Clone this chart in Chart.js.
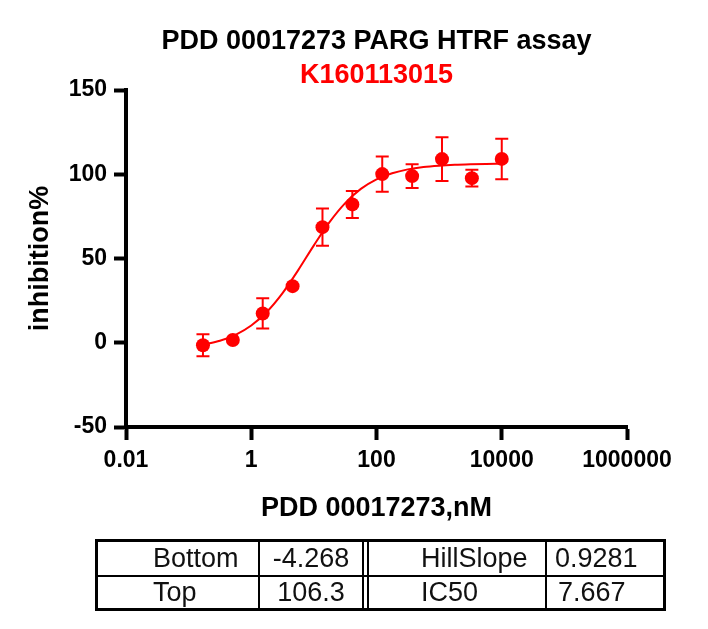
<!DOCTYPE html>
<html>
<head>
<meta charset="utf-8">
<script src="https://cdn.jsdelivr.net/npm/chart.js@4.4.1/dist/chart.umd.min.js"></script>
<style>
    body { margin: 0; background: #fff; }
    #wrap { position: relative; width: 708px; height: 629px; }
    #chart { position: absolute; left: 0; top: 0; }
    .tbl {
        position: absolute; left: 95px; top: 539px; width: 571px; height: 72px;
        border: 3px solid #000; box-sizing: border-box;
        font-family: "Liberation Sans", Arial, sans-serif; font-size: 27px; color: #111;
    }
    .tbl .ln { position: absolute; background: #000; }
    .tbl .cell { position: absolute; white-space: nowrap; }
</style>
</head>
<body>
<div id="wrap">
    <canvas id="chart" width="708" height="629"></canvas>
    <div class="tbl" id="fitTable"></div>
</div>
<script>
// dose-response values
const concentrations = [0.1694, 0.5081, 1.524, 4.572, 13.72, 41.15, 123.5, 370.4, 1111, 3333, 10000];
const inhibition = [-1.5, 1.6, 17.4, 33.6, 68.6, 82.1, 100.1, 98.9, 109.0, 97.7, 109.1];
const errorSD = [6.5, 1.5, 9, 1.5, 11, 8, 10.5, 7, 13, 5, 12];

// fitted curve, sampled from the drawn line
const curveX = [0.1694, 0.3162, 0.5623, 1, 1.778, 3.162, 5.623, 10, 17.78, 31.62, 56.23, 100,
    177.8, 316.2, 562.3, 1000, 1778, 3162, 5623, 10000];
const curveY = [-1.1, 1.2, 4.7, 10.2, 18.4, 29.5, 43.1, 57.8, 71.6, 82.9, 91.3, 97.0,
    100.6, 102.9, 104.3, 105.1, 105.6, 105.9, 106.1, 106.2];

const xTicks = [0.01, 1, 100, 10000, 1000000];
const yTicks = [-50, 0, 50, 100, 150];

const titleText = 'PDD 00017273 PARG HTRF assay';
const subtitleText = 'K160113015';
const xTitle = 'PDD 00017273,nM';
const yTitle = 'inhibition%';

const fitLabels = ['Bottom', 'Top', 'HillSlope', 'IC50'];
const fitValues = ['-4.268', '106.3', '0.9281', '7.667'];

const RED = '#ff0000';

// build the parameter table
function buildTable() {
    const t = document.getElementById('fitTable');
    const lines = [
        { left: 0, top: 33, width: 565, height: 2 },
        { left: 160, top: 0, width: 2, height: 66 },
        { left: 264, top: 0, width: 2, height: 66 },
        { left: 269, top: 0, width: 2, height: 66 },
        { left: 447, top: 0, width: 2, height: 66 }
    ];
    lines.forEach(l => {
        const d = document.createElement('div');
        d.className = 'ln';
        Object.assign(d.style, { left: l.left + 'px', top: l.top + 'px', width: l.width + 'px', height: l.height + 'px' });
        t.appendChild(d);
    });
    const rows = [{ top: 0, h: 33 }, { top: 35, h: 31 }];
    const cells = [
        { text: fitLabels[0], row: 0, left: 55, width: 105, align: 'left' },
        { text: fitValues[0], row: 0, left: 162, width: 102, align: 'center' },
        { text: fitLabels[2], row: 0, left: 323, width: 124, align: 'left' },
        { text: fitValues[2], row: 0, left: 457, width: 108, align: 'left' },
        { text: fitLabels[1], row: 1, left: 55, width: 105, align: 'left' },
        { text: fitValues[1], row: 1, left: 162, width: 102, align: 'center' },
        { text: fitLabels[3], row: 1, left: 323, width: 124, align: 'left' },
        { text: fitValues[3], row: 1, left: 460, width: 105, align: 'left' }
    ];
    cells.forEach(c => {
        const d = document.createElement('div');
        d.className = 'cell';
        d.textContent = c.text;
        const r = rows[c.row];
        Object.assign(d.style, {
            left: c.left + 'px', width: c.width + 'px', top: r.top + 'px',
            height: r.h + 'px', lineHeight: r.h + 'px', textAlign: c.align
        });
        t.appendChild(d);
    });
}
buildTable();

// error bars over the symbols' position
const errorBars = {
    id: 'errorBars',
    afterDatasetsDraw(chart) {
        const { ctx, scales: { x, y } } = chart;
        ctx.save();
        ctx.strokeStyle = RED;
        ctx.lineWidth = 2;
        concentrations.forEach((c, i) => {
            const px = x.getPixelForValue(c);
            const top = y.getPixelForValue(inhibition[i] + errorSD[i]);
            const bot = y.getPixelForValue(inhibition[i] - errorSD[i]);
            // hidden when shorter than the symbol, like Prism
            if ((bot - top) / 2 <= 7) return;
            ctx.beginPath();
            ctx.moveTo(px, top); ctx.lineTo(px, bot);
            ctx.moveTo(px - 6.5, top); ctx.lineTo(px + 6.5, top);
            ctx.moveTo(px - 6.5, bot); ctx.lineTo(px + 6.5, bot);
            ctx.stroke();
        });
        ctx.restore();
    }
};

// title + subtitle centred over the plot area
const titles = {
    id: 'titles',
    afterDraw(chart) {
        const { ctx, chartArea } = chart;
        const cx = (chartArea.left + chartArea.right) / 2;
        ctx.save();
        ctx.textAlign = 'center';
        ctx.textBaseline = 'alphabetic';
        ctx.font = 'bold 27px "Liberation Sans", Arial, sans-serif';
        ctx.fillStyle = '#000';
        ctx.fillText(titleText, cx, 49);
        ctx.fillStyle = RED;
        ctx.fillText(subtitleText, cx, 83);
        ctx.restore();
    }
};

Chart.defaults.font.family = '"Liberation Sans", Arial, sans-serif';
Chart.defaults.color = '#000';

new Chart(document.getElementById('chart'), {
    type: 'scatter',
    data: {
        datasets: [
            {
                type: 'line',
                label: 'fit',
                data: curveX.map((v, i) => ({ x: v, y: curveY[i] })),
                borderColor: RED,
                borderWidth: 2,
                pointRadius: 0,
                cubicInterpolationMode: 'monotone',
                fill: false,
                order: 2
            },
            {
                label: 'inhibition',
                data: concentrations.map((v, i) => ({ x: v, y: inhibition[i] })),
                backgroundColor: RED,
                borderWidth: 0,
                pointRadius: 7,
                order: 1
            }
        ]
    },
    options: {
        responsive: false,
        animation: false,
        events: [],
        layout: { padding: { left: 0, top: 90, right: 81, bottom: 91 } },
        plugins: { legend: { display: false }, tooltip: { enabled: false } },
        scales: {
            x: {
                type: 'logarithmic',
                min: 0.01,
                max: 1000000,
                afterBuildTicks: s => { s.ticks = xTicks.map(v => ({ value: v })); },
                afterFit: s => { s.height = 111; },
                ticks: {
                    font: { size: 23, weight: 'bold' },
                    padding: 7,
                    maxRotation: 0,
                    autoSkip: false,
                    callback: v => String(v)
                },
                grid: { drawOnChartArea: false, tickLength: 13, tickWidth: 4, tickColor: '#000' },
                border: { color: '#000', width: 4 },
                title: { display: true, text: xTitle, font: { size: 27, weight: 'bold' }, padding: { top: 0, bottom: 13 } }
            },
            y: {
                min: -50,
                max: 150,
                afterBuildTicks: s => { s.ticks = yTicks.map(v => ({ value: v })); },
                afterFit: s => { s.width = 126; },
                ticks: { font: { size: 23, weight: 'bold' }, padding: 7 },
                grid: { drawOnChartArea: false, tickLength: 12, tickWidth: 4, tickColor: '#000' },
                border: { color: '#000', width: 4 },
                title: { display: true, text: yTitle, font: { size: 27, weight: 'bold' }, padding: { top: 24, bottom: 0 } }
            }
        }
    },
    plugins: [errorBars, titles]
});
</script>
</body>
</html>
